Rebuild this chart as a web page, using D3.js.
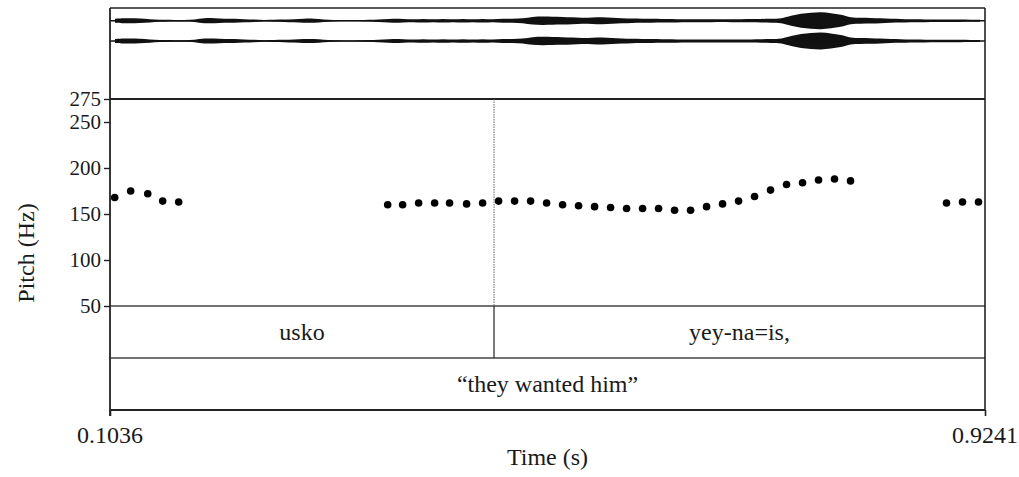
<!DOCTYPE html>
<html>
<head>
<meta charset="utf-8">
<script src="https://cdn.jsdelivr.net/npm/d3@7"></script>
<style>
  html, body { margin: 0; padding: 0; background: #fff; }
  svg { display: block; }
  text { font-family: "Liberation Serif", "Times New Roman", serif; fill: #1a1a1a; }
</style>
</head>
<body>
<svg id="chart" width="1019" height="477"></svg>
<script>
// Time span of the excerpt (s)
const timeRange = [0.1036, 0.9241];

// Pitch axis
const pitchRange = [50, 275];
const pitchTicks = [50, 100, 150, 200, 250, 275];

// Pitch track (time in s, F0 in Hz)
const pitchTimes = [
  0.108, 0.123, 0.139, 0.153, 0.168,
  0.364, 0.378, 0.393, 0.408, 0.422, 0.438, 0.453,
  0.468, 0.483, 0.498, 0.513, 0.528, 0.543, 0.558, 0.573, 0.588, 0.603, 0.618, 0.633,
  0.648, 0.663, 0.678, 0.693, 0.708, 0.723, 0.738, 0.753, 0.768, 0.783, 0.798,
  0.888, 0.903, 0.918
];
const pitchHz = [
  168, 175, 172, 164, 163,
  160, 160, 162, 162, 162, 161, 162,
  164, 164, 164, 162, 160, 159, 158, 157, 156, 156, 156, 154,
  154, 158, 161, 164, 169, 176, 182, 184, 187, 188, 186,
  162, 163, 163
];

// Word tier
const wordLabels = ["usko", "yey-na=is,"];
const wordBounds = [0.1036, 0.4637, 0.9241];

// Translation tier
const glossLabels = ["\u201Cthey wanted him\u201D"];
const glossBounds = [0.1036, 0.9241];

// Waveform amplitude envelope (relative), one value per ~9.4 ms frame
const waveEnvelope = [
  0.20, 0.25, 0.25, 0.20, 0.12, 0.10, 0.08, 0.08, 0.12, 0.25,
  0.25, 0.20, 0.20, 0.15, 0.12, 0.08, 0.10, 0.12, 0.15, 0.20,
  0.20, 0.12, 0.08, 0.06, 0.06, 0.08, 0.10, 0.15, 0.20, 0.18,
  0.15, 0.18, 0.15, 0.18, 0.15, 0.18, 0.15, 0.18, 0.15, 0.20,
  0.20, 0.25, 0.38, 0.42, 0.40, 0.38, 0.35, 0.30, 0.32, 0.35,
  0.30, 0.25, 0.22, 0.20, 0.20, 0.18, 0.18, 0.15, 0.15, 0.15,
  0.15, 0.14, 0.15, 0.15, 0.16, 0.18, 0.20, 0.25, 0.50, 0.70,
  0.80, 0.85, 0.75, 0.60, 0.35, 0.30, 0.28, 0.25, 0.20, 0.18,
  0.15, 0.15, 0.12, 0.12, 0.12, 0.12, 0.10, 0.10
];

const svg = d3.select("#chart");
const left = 110, right = 985;
const waveTop = 8, pitchTop = 99, pitchBottom = 306, tier1Bottom = 358, tier2Bottom = 410;
const FS = 24, TICK_FS = 21;

const x = d3.scaleLinear().domain(timeRange).range([left, right]);
const y = d3.scaleLinear().domain(pitchRange).range([pitchBottom, pitchTop]);

function label(g, px, py, str, anchor, rotate, size) {
  return g.append("text")
    .attr("transform", `translate(${px},${py})` + (rotate ? ` rotate(${rotate})` : ""))
    .attr("text-anchor", anchor || "middle")
    .attr("font-size", size || FS)
    .text(str);
}

// ---- Waveform (two channels) ----
const waveG = svg.append("g");
const frameStep = (timeRange[1] - timeRange[0]) / waveEnvelope.length;
const envPts = waveEnvelope.map((a, i) => ({ t: timeRange[0] + (i + 0.5) * frameStep, a }));
[20.7, 41].forEach(cy => {
  const amp = d3.scaleLinear().domain([-1, 1]).range([cy + 10, cy - 10]);
  waveG.append("path")
    .datum(envPts)
    .attr("d", d3.area()
      .x(d => x(d.t))
      .y0(d => amp(-d.a))
      .y1(d => amp(d.a))
      .curve(d3.curveCatmullRom))
    .attr("fill", "#111");
  waveG.append("line")
    .attr("x1", left).attr("x2", right)
    .attr("y1", cy).attr("y2", cy)
    .attr("stroke", "#111").attr("stroke-width", 1.4);
});

// ---- Frames and tier lines ----
const lines = svg.append("g").attr("stroke", "#222");
lines.append("line").attr("x1", left).attr("x2", right).attr("y1", waveTop).attr("y2", waveTop).attr("stroke-width", 1.6);
lines.append("line").attr("x1", left).attr("x2", right).attr("y1", pitchTop).attr("y2", pitchTop).attr("stroke-width", 2);
[pitchBottom, tier1Bottom].forEach(yy =>
  lines.append("line").attr("x1", left).attr("x2", right).attr("y1", yy).attr("y2", yy).attr("stroke-width", 1.4).attr("stroke", "#444"));
lines.append("line").attr("x1", left).attr("x2", right).attr("y1", tier2Bottom).attr("y2", tier2Bottom).attr("stroke-width", 2);
lines.append("line").attr("x1", right).attr("x2", right).attr("y1", waveTop).attr("y2", tier2Bottom).attr("stroke-width", 1.6);

// Word boundaries: dotted through the pitch panel, solid within the tier
wordBounds.slice(1, -1).forEach(b => {
  svg.append("line")
    .attr("x1", x(b)).attr("x2", x(b))
    .attr("y1", pitchTop).attr("y2", pitchBottom)
    .attr("stroke", "#666").attr("stroke-width", 1)
    .attr("stroke-dasharray", "1.5,1");
  svg.append("line")
    .attr("x1", x(b)).attr("x2", x(b))
    .attr("y1", pitchBottom).attr("y2", tier1Bottom)
    .attr("stroke", "#333").attr("stroke-width", 1.3);
});

// ---- Pitch axis ----
const yAxis = svg.append("g")
  .attr("transform", `translate(${left},0)`)
  .call(d3.axisLeft(y).tickValues(pitchTicks).tickSize(6).tickFormat(d3.format("d")));
yAxis.select(".domain").remove();
yAxis.selectAll(".tick line").attr("stroke", "#222").attr("stroke-width", 1.4);
yAxis.selectAll(".tick text").remove();
pitchTicks.forEach(v => label(yAxis, -9, y(v) + 7, String(v), "end", 0, TICK_FS));
// left spine from the waveform box to the bottom tier
svg.append("line").attr("x1", left).attr("x2", left).attr("y1", waveTop).attr("y2", tier2Bottom + 6)
  .attr("stroke", "#222").attr("stroke-width", 1.8);

label(svg, 34, 253, "Pitch (Hz)", "middle", -90);

// ---- Time axis ----
const xAxis = svg.append("g")
  .attr("transform", `translate(0,${tier2Bottom})`)
  .call(d3.axisBottom(x).tickValues(timeRange).tickSize(6).tickFormat(d3.format(".4f")));
xAxis.select(".domain").remove();
xAxis.selectAll(".tick line").attr("stroke", "#222").attr("stroke-width", 1.6);
xAxis.selectAll(".tick text").remove();
timeRange.forEach(v => label(svg, x(v), 443, d3.format(".4f")(v), "middle"));
label(svg, x((timeRange[0] + timeRange[1]) / 2), 465, "Time (s)", "middle");

// ---- Pitch points ----
svg.append("g").selectAll("circle")
  .data(pitchTimes.map((t, i) => ({ t, hz: pitchHz[i] })))
  .join("circle")
  .attr("cx", d => x(d.t))
  .attr("cy", d => y(d.hz))
  .attr("r", 3.8)
  .attr("fill", "#000");

// ---- Tier labels ----
wordLabels.forEach((w, i) =>
  label(svg, (x(wordBounds[i]) + x(wordBounds[i + 1])) / 2, (pitchBottom + tier1Bottom) / 2 + 8, w, "middle"));
glossLabels.forEach((w, i) =>
  label(svg, (x(glossBounds[i]) + x(glossBounds[i + 1])) / 2, (tier1Bottom + tier2Bottom) / 2 + 8, w, "middle"));
</script>
</body>
</html>
